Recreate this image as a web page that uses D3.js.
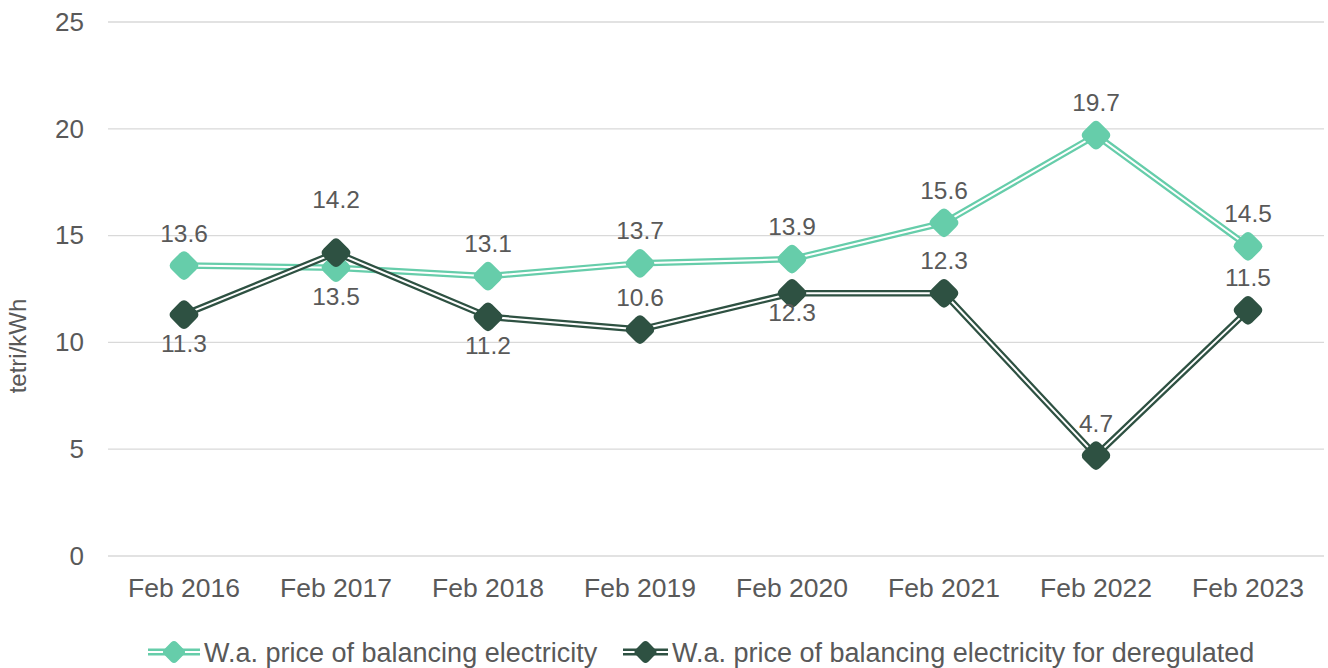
<!DOCTYPE html>
<html>
<head>
<meta charset="utf-8">
<script src="https://cdn.jsdelivr.net/npm/d3@7"></script>
<style>
  html, body { margin: 0; padding: 0; background: #fff; }
  svg text { font-family: "Liberation Sans", Arial, sans-serif; }
</style>
</head>
<body>
<svg id="chart" width="1328" height="668"></svg>
<script>
const categories = ["Feb 2016", "Feb 2017", "Feb 2018", "Feb 2019", "Feb 2020", "Feb 2021", "Feb 2022", "Feb 2023"];
const balancingPrice = [13.6, 13.5, 13.1, 13.7, 13.9, 15.6, 19.7, 14.5];
const deregulatedPrice = [11.3, 14.2, 11.2, 10.6, 12.3, 12.3, 4.7, 11.5];
const yTicks = [0, 5, 10, 15, 20, 25];
// label placement per point: "above", "below", "belowNear" (tucked under the marker),
// or "high" (lifted clear of the other series)
const balancingLabelPos = ["above", "below", "above", "above", "above", "above", "above", "above"];
const deregulatedLabelPos = ["below", "high", "below", "above", "belowNear", "above", "above", "above"];
const seriesNames = ["W.a. price of balancing electricity", "W.a. price of balancing electricity for deregulated"];

const labelOffset = { above: -24, below: 37, belowNear: 28, high: -45 };

const svg = d3.select("#chart");
const margin = { left: 108, right: 4, top: 22, bottom: 112 };
const W = 1328, H = 668;

const x = d3.scaleBand().domain(categories).range([margin.left, W - margin.right]);
const y = d3.scaleLinear().domain([0, 25]).range([H - margin.bottom, margin.top]);

const textColor = "#595959";

// gridlines
svg.append("g")
  .selectAll("line")
  .data(yTicks)
  .join("line")
  .attr("x1", margin.left)
  .attr("x2", W - margin.right)
  .attr("y1", d => y(d))
  .attr("y2", d => y(d))
  .attr("stroke", "#d9d9d9")
  .attr("stroke-width", 1.3);

// y axis
const yAxis = svg.append("g")
  .attr("transform", `translate(${margin.left},0)`)
  .call(d3.axisLeft(y).tickValues(yTicks).tickSize(0).tickPadding(24));
yAxis.select(".domain").remove();
yAxis.selectAll("text").attr("font-size", 26).attr("fill", textColor);

// x axis
const xAxis = svg.append("g")
  .attr("transform", `translate(0,${y(0)})`)
  .call(d3.axisBottom(x).tickSize(0).tickPadding(22));
xAxis.select(".domain").remove();
xAxis.selectAll("text").attr("font-size", 26.5).attr("fill", textColor);

// y axis title
svg.append("text")
  .attr("transform", `translate(26,346) rotate(-90)`)
  .attr("text-anchor", "middle")
  .attr("font-size", 24)
  .attr("fill", textColor)
  .text("tetri/kWh");

const cx = c => x(c) + x.bandwidth() / 2;
const line = d3.line().x(d => cx(d.c)).y(d => y(d.v));

function diamondPath(size, r) {
  // rounded diamond centred at origin
  const h = size / 2;
  const pts = [[0, -h], [h, 0], [0, h], [-h, 0]];
  let p = "";
  for (let i = 0; i < 4; i++) {
    const prev = pts[(i + 3) % 4], cur = pts[i], next = pts[(i + 1) % 4];
    const d1 = Math.hypot(cur[0] - prev[0], cur[1] - prev[1]);
    const a = [cur[0] + (prev[0] - cur[0]) * r / d1, cur[1] + (prev[1] - cur[1]) * r / d1];
    const b = [cur[0] + (next[0] - cur[0]) * r / d1, cur[1] + (next[1] - cur[1]) * r / d1];
    p += (i === 0 ? "M" : "L") + a[0] + "," + a[1] + "Q" + cur[0] + "," + cur[1] + " " + b[0] + "," + b[1];
  }
  return p + "Z";
}

const series = [
  { name: seriesNames[0], values: balancingPrice, pos: balancingLabelPos, color: "#66cdaa" },
  { name: seriesNames[1], values: deregulatedPrice, pos: deregulatedLabelPos, color: "#2e5142" }
];

series.forEach(s => {
  const pts = s.values.map((v, i) => ({ c: categories[i], v }));
  const g = svg.append("g");
  g.append("path").datum(pts).attr("d", line)
    .attr("fill", "none").attr("stroke", s.color).attr("stroke-width", 6.5).attr("stroke-linejoin", "round");
  g.append("path").datum(pts).attr("d", line)
    .attr("fill", "none").attr("stroke", "#fff").attr("stroke-width", 2).attr("stroke-linejoin", "round");
  s.pts = pts;
});

series.forEach(s => {
  svg.append("g").selectAll("path")
    .data(s.pts)
    .join("path")
    .attr("transform", d => `translate(${cx(d.c)},${y(d.v)})`)
    .attr("d", diamondPath(33, 6))
    .attr("fill", s.color);
});

series.forEach(s => {
  svg.append("g").selectAll("text")
    .data(s.pts)
    .join("text")
    .attr("x", d => cx(d.c))
    .attr("y", (d, i) => y(d.v) + labelOffset[s.pos[i]])
    .attr("text-anchor", "middle")
    .attr("font-size", 24.5)
    .attr("fill", textColor)
    .text(d => d.v.toFixed(1));
});

// legend
const legendItems = [
  { x: 148, textX: 204, s: series[0] },
  { x: 623, textX: 672, s: series[1] }
];
legendItems.forEach(item => {
  const g = svg.append("g");
  const ly = 652;
  const w = item.textX - item.x - 4;
  g.append("line").attr("x1", item.x).attr("x2", item.x + w).attr("y1", ly).attr("y2", ly)
    .attr("stroke", item.s.color).attr("stroke-width", 7);
  g.append("line").attr("x1", item.x).attr("x2", item.x + w).attr("y1", ly).attr("y2", ly)
    .attr("stroke", "#fff").attr("stroke-width", 2.2);
  g.append("path").attr("transform", `translate(${item.x + w / 2},${ly})`)
    .attr("d", diamondPath(25, 4)).attr("fill", item.s.color);
  g.append("text").attr("x", item.textX).attr("y", 662)
    .attr("font-size", 27).attr("fill", textColor).text(item.s.name);
});
</script>
</body>
</html>
